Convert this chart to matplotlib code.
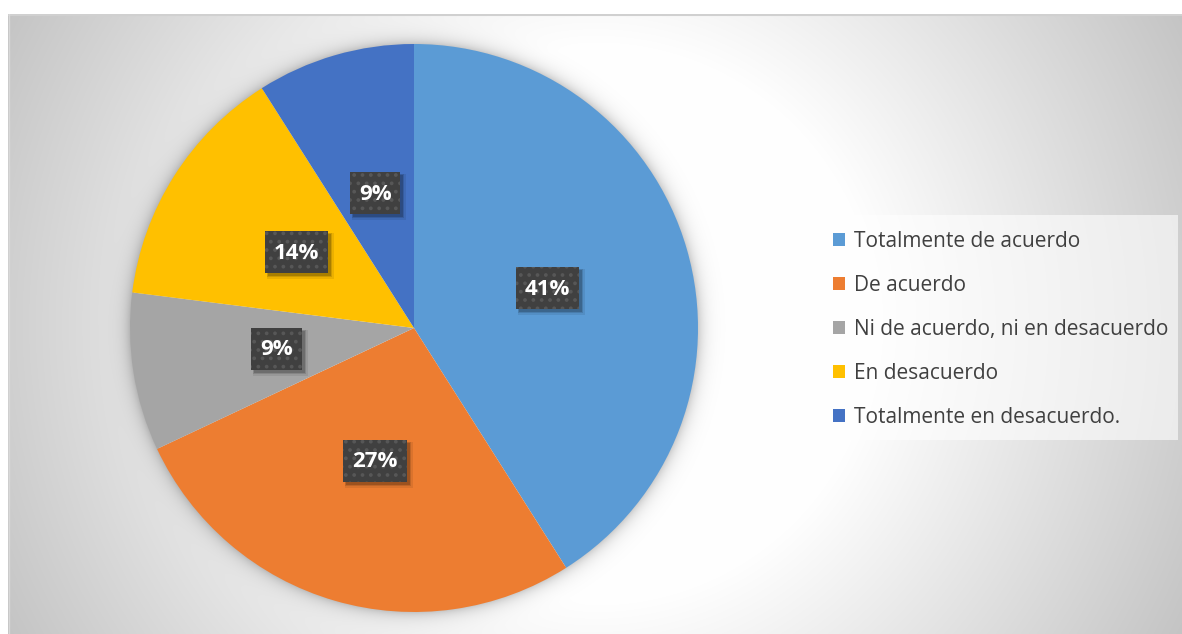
import numpy as np
import matplotlib
matplotlib.use("Agg")
import matplotlib.pyplot as plt
from matplotlib.patches import Rectangle

categories = ["Totalmente de acuerdo", "De acuerdo", "Ni de acuerdo, ni en desacuerdo",
              "En desacuerdo", "Totalmente en desacuerdo."]
values = [41, 27, 9, 14, 9]
colors = ["#5B9BD5", "#ED7D31", "#A5A5A5", "#FFC000", "#4472C4"]

plt.rcParams["hatch.linewidth"] = 1.5

W, H = 1182, 634
fig = plt.figure(figsize=(W / 100, H / 100), dpi=100)
fig.patch.set_facecolor("white")

pcx, pcy, r = 414, 328, 284

# background gradient (chart area) - radial from chart-area centre, plus soft pie glow
bx0, by0, bx1, by1 = 8, 14, W, H
bg = fig.add_axes([bx0 / W, 0, (bx1 - bx0) / W, (H - by0) / H])
bg.set_axis_off()
xs = np.arange(bx0, bx1) + 0.5
ys = np.arange(by0, by1) + 0.5
X, Y = np.meshgrid(xs, ys)
gcx, gcy = (bx0 + bx1) / 2, (by0 + by1) / 2
rr = np.hypot(X - gcx, Y - gcy)
f = np.clip((rr - 275) / 390, 0, 1)
g = 255 - (255 - 196) * f
dp = np.hypot(X - pcx, Y - pcy) - r
glow = np.where(dp > -2, 0.2 * np.exp(-np.clip(dp, 0, None) / 7.0), 0)
g = g * (1 - glow)
g = g / 255.0
img = np.dstack([g, g, g])
bg.imshow(img, extent=(0, 1, 0, 1), aspect="auto", origin="upper")
bg.set_xlim(0, 1)
bg.set_ylim(0, 1)
bg.plot([0, 1], [0.999, 0.999], color="#d0d0d0", lw=1.5)
bg.plot([0.0005, 0.0005], [0, 1], color="#d8d8d8", lw=1.0)

# legend background box (pixel coords)
lx0, ly0, lx1, ly1 = 820, 215, 1178, 440
fig.patches.append(Rectangle((lx0 / W, (H - ly1) / H), (lx1 - lx0) / W, (ly1 - ly0) / H,
                             transform=fig.transFigure, facecolor="white", alpha=0.6,
                             edgecolor="none", zorder=1))

# pie
ax = fig.add_axes([(pcx - r) / W, (H - pcy - r) / H, 2 * r / W, 2 * r / H])
wedges, _ = ax.pie(values, colors=colors, startangle=90, counterclock=False,
                   wedgeprops=dict(linewidth=0))
ax.set_xlim(-1, 1)
ax.set_ylim(-1, 1)
ax.set_aspect("auto")
ax.set_axis_off()

total = sum(values)
cum = 0
texts = []
for v in values:
    mid = 90 - 360 * (cum + v / 2) / total
    cum += v
    d = 0.49
    x = d * np.cos(np.radians(mid))
    y = d * np.sin(np.radians(mid))
    txt = f"{round(100 * v / total)}%"
    tobj = ax.text(x, y, txt, ha="center", va="center", fontsize=16, fontweight="bold",
                   family="Open Sans", color="white", zorder=5)
    texts.append(tobj)

fig.canvas.draw()
renderer = fig.canvas.get_renderer()
inv = ax.transData.inverted()


def pix_rect(px0, py0, pw, ph, **kw):
    (dx0, dy0) = inv.transform((px0, py0))
    (dx1, dy1) = inv.transform((px0 + pw, py0 + ph))
    ax.add_patch(Rectangle((dx0, dy0), dx1 - dx0, dy1 - dy0, **kw))


for tobj in texts:
    bb = tobj.get_window_extent(renderer)
    tcx = (bb.x0 + bb.x1) / 2
    tcy = (bb.y0 + bb.y1) / 2
    bw = bb.width + 18
    bh = 42
    x0 = tcx - bw / 2
    y0 = tcy - bh / 2 + 1
    for off, grow, a in [(4, 2, 0.08), (3, 1, 0.12), (3, 0, 0.18)]:
        pix_rect(x0 + off - grow, y0 - off - grow, bw + 2 * grow, bh + 2 * grow,
                 facecolor="black", alpha=a, edgecolor="none", zorder=3)
    pix_rect(x0, y0, bw, bh, facecolor="#404040", edgecolor="#575757",
             linewidth=0, hatch="..", zorder=4)

leg = fig.legend(wedges, categories, loc="upper left",
                 bbox_to_anchor=(833 / W, (H - 231) / H),
                 frameon=False, prop=dict(family="Open Sans", size=15),
                 handlelength=0.58, handleheight=0.58, handletextpad=0.42,
                 labelspacing=1.1, borderpad=0, borderaxespad=0)
for tx in leg.get_texts():
    tx.set_color("#404040")

fig.savefig("out.png", dpi=100)
